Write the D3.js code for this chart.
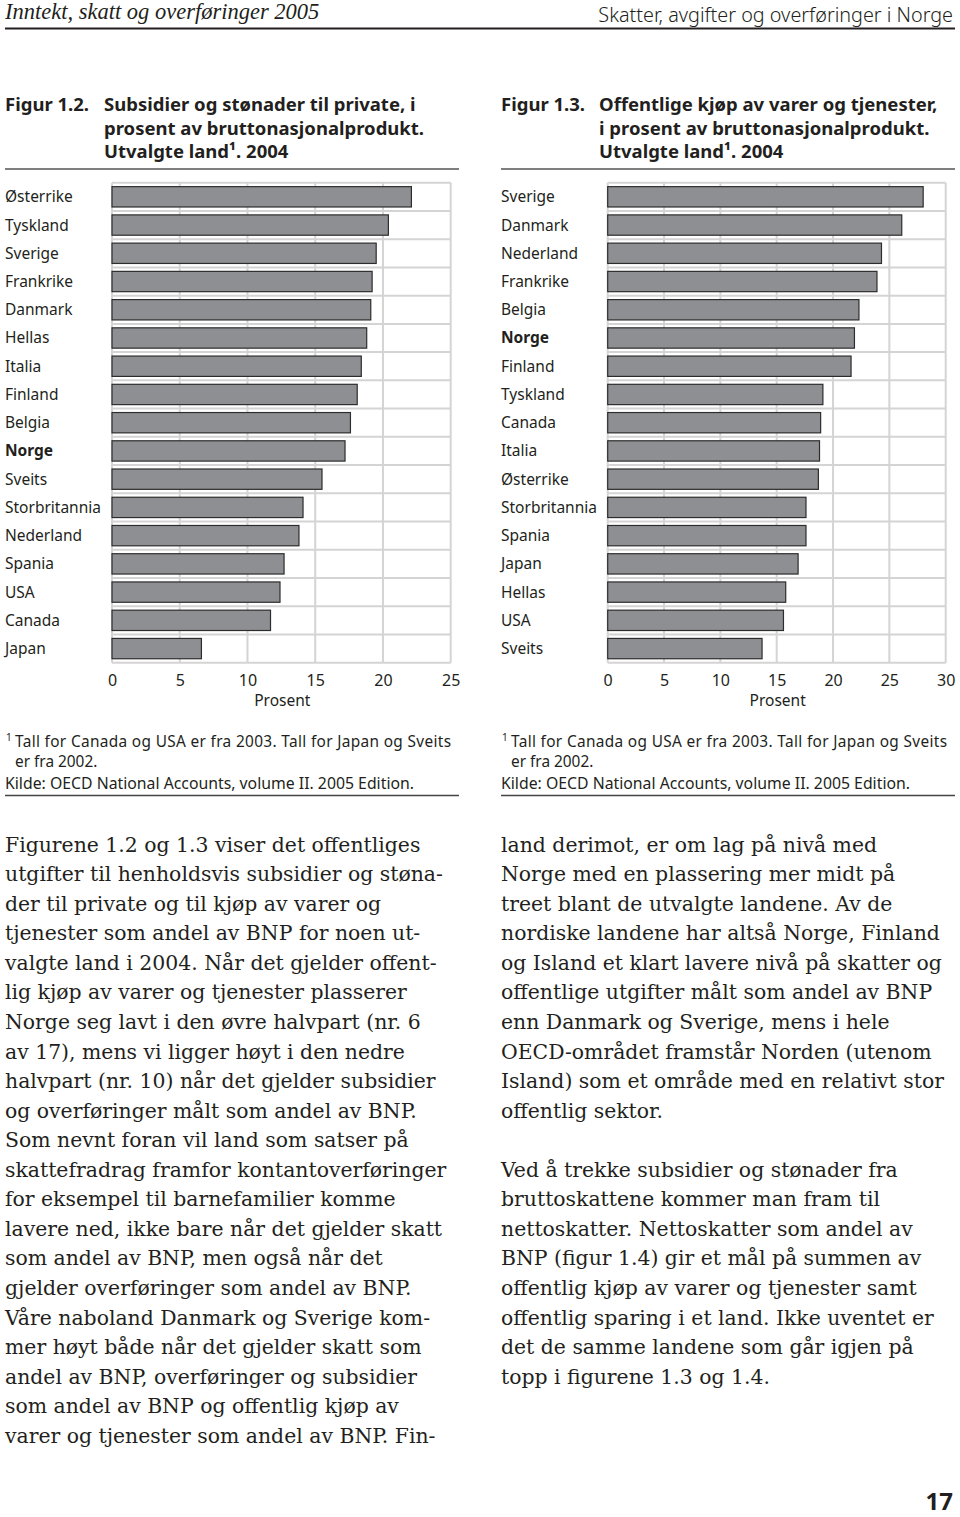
<!DOCTYPE html>
<html><head><meta charset="utf-8">
<script src="https://cdn.jsdelivr.net/npm/d3@7"></script>
<style>body{margin:0;background:#fff} svg{display:block}</style>
</head><body><svg id="c" width="960" height="1517"></svg>
<script>
// ---------- data ----------
const leftCountries = ["Østerrike","Tyskland","Sverige","Frankrike","Danmark","Hellas","Italia","Finland","Belgia","Norge","Sveits","Storbritannia","Nederland","Spania","USA","Canada","Japan"];
const leftValues = [22.1,20.4,19.5,19.2,19.1,18.8,18.4,18.1,17.6,17.2,15.5,14.1,13.8,12.7,12.4,11.7,6.6];
const leftTicks = [0,5,10,15,20,25];

const rightCountries = ["Sverige","Danmark","Nederland","Frankrike","Belgia","Norge","Finland","Tyskland","Canada","Italia","Østerrike","Storbritannia","Spania","Japan","Hellas","USA","Sveits"];
const rightValues = [28.0,26.1,24.3,23.9,22.3,21.9,21.6,19.1,18.9,18.8,18.7,17.6,17.6,16.9,15.8,15.6,13.7];
const rightTicks = [0,5,10,15,20,25,30];

const leftTitle = ["Figur 1.2.", "Subsidier og stønader til private, i", "prosent av bruttonasjonalprodukt.", "Utvalgte land¹. 2004"];
const rightTitle = ["Figur 1.3.", "Offentlige kjøp av varer og tjenester,", "i prosent av bruttonasjonalprodukt.", "Utvalgte land¹. 2004"];
const footLines = ["Tall for Canada og USA er fra 2003. Tall for Japan og Sveits", "er fra 2002.", "Kilde: OECD National Accounts, volume II. 2005 Edition."];
const axisLabel = "Prosent";
const highlight = "Norge";

const bodyLeft = [
"Figurene 1.2 og 1.3 viser det offentliges",
"utgifter til henholdsvis subsidier og støna-",
"der til private og til kjøp av varer og",
"tjenester som andel av BNP for noen ut-",
"valgte land i 2004. Når det gjelder offent-",
"lig kjøp av varer og tjenester plasserer",
"Norge seg lavt i den øvre halvpart (nr. 6",
"av 17), mens vi ligger høyt i den nedre",
"halvpart (nr. 10) når det gjelder subsidier",
"og overføringer målt som andel av BNP.",
"Som nevnt foran vil land som satser på",
"skattefradrag framfor kontantoverføringer",
"for eksempel til barnefamilier komme",
"lavere ned, ikke bare når det gjelder skatt",
"som andel av BNP, men også når det",
"gjelder overføringer som andel av BNP.",
"Våre naboland Danmark og Sverige kom-",
"mer høyt både når det gjelder skatt som",
"andel av BNP, overføringer og subsidier",
"som andel av BNP og offentlig kjøp av",
"varer og tjenester som andel av BNP. Fin-"];
const bodyRight = [
"land derimot, er om lag på nivå med",
"Norge med en plassering mer midt på",
"treet blant de utvalgte landene. Av de",
"nordiske landene har altså Norge, Finland",
"og Island et klart lavere nivå på skatter og",
"offentlige utgifter målt som andel av BNP",
"enn Danmark og Sverige, mens i hele",
"OECD-området framstår Norden (utenom",
"Island) som et område med en relativt stor",
"offentlig sektor.",
"",
"Ved å trekke subsidier og stønader fra",
"bruttoskattene kommer man fram til",
"nettoskatter. Nettoskatter som andel av",
"BNP (figur 1.4) gir et mål på summen av",
"offentlig kjøp av varer og tjenester samt",
"offentlig sparing i et land. Ikke uventet er",
"det de samme landene som går igjen på",
"topp i figurene 1.3 og 1.4."];

// ---------- drawing ----------
const svg = d3.select("#c");
const SANS = "'Noto Sans','Open Sans',sans-serif";
const SERIF = "'DejaVu Serif',serif";
const INK = "#231f20";

// running header
svg.append("text").attr("x",5).attr("y",19)
  .attr("font-family","'Liberation Serif',serif").attr("font-style","italic")
  .attr("font-size",22.5).attr("fill",INK).text("Inntekt, skatt og overføringer 2005");
svg.append("text").attr("x",953).attr("y",21.5).attr("text-anchor","end")
  .attr("font-family",SANS).attr("font-weight",300)
  .attr("font-size",19.8).attr("fill",INK).text("Skatter, avgifter og overføringer i Norge");
svg.append("line").attr("x1",5).attr("x2",955).attr("y1",28.5).attr("y2",28.5)
  .attr("stroke",INK).attr("stroke-width",2);

function panel(o){
  const g = svg.append("g");
  // title
  const tb = [111,134.7,158.3];
  g.append("text").attr("x",o.titleX).attr("y",tb[0]).attr("font-family",SANS)
    .attr("font-weight",700).attr("font-size",18.5).attr("fill",INK).text(o.title[0]);
  o.title.slice(1).forEach((t,i)=>{
    g.append("text").attr("x",o.indentX).attr("y",tb[i]).attr("font-family",SANS)
      .attr("font-weight",700).attr("font-size",18.5).attr("fill",INK).text(t);
  });
  g.append("line").attr("x1",o.titleX).attr("x2",o.ruleX1).attr("y1",169).attr("y2",169)
    .attr("stroke","#555").attr("stroke-width",1.5);

  const x = d3.scaleLinear().domain([0,d3.max(o.ticks)]).range([o.x0,o.x1]);
  const y = d3.scaleBand().domain(o.countries).range([182.7,662.7]).paddingInner(0.28).paddingOuter(0.14);
  const step = y.step();
  const GRID = "#d4d4d4";
  // horizontal separators (band borders)
  d3.range(o.countries.length+1).forEach(i=>{
    const yy = 182.7 + i*step;
    g.append("line").attr("x1",o.x0).attr("x2",o.x1).attr("y1",yy).attr("y2",yy)
      .attr("stroke",GRID).attr("stroke-width",2);
  });
  // vertical grid
  g.selectAll(".vg").data(o.ticks).enter().append("line")
    .attr("x1",d=>x(d)).attr("x2",d=>x(d)).attr("y1",182.7).attr("y2",662.7)
    .attr("stroke",GRID).attr("stroke-width",2);
  // bars
  g.selectAll(".bar").data(o.countries).enter().append("rect")
    .attr("x",x(0)).attr("y",d=>y(d))
    .attr("width",(d,i)=>x(o.values[i])-x(0)).attr("height",y.bandwidth())
    .attr("fill","#8e8f92").attr("stroke","#2d2d2d").attr("stroke-width",1.2);
  // category labels
  g.selectAll(".lab").data(o.countries).enter().append("text")
    .attr("x",o.labelX).attr("y",d=>y(d)+y.bandwidth()/2+5.5)
    .attr("font-family",SANS).attr("font-size",15.5).attr("fill",INK)
    .attr("font-weight",d=>d===highlight?700:400).text(d=>d);
  // x axis
  const ax = d3.axisBottom(x).tickValues(o.ticks).tickSize(0).tickPadding(0);
  const axg = g.append("g").attr("transform","translate(0,686)").call(ax);
  axg.select(".domain").remove();
  axg.selectAll("text").attr("dy",0).attr("y",0).attr("font-family",SANS)
    .attr("font-size",16).attr("fill",INK);
  g.append("text").attr("x",(o.x0+o.x1)/2+1).attr("y",706).attr("text-anchor","middle")
    .attr("font-family",SANS).attr("font-size",15.5).attr("fill",INK).text(axisLabel);
  // footnotes
  g.append("text").attr("x",o.titleX+1).attr("y",741).attr("font-family",SANS)
    .attr("font-size",10).attr("fill",INK).text("1");
  g.append("text").attr("x",o.titleX+10).attr("y",747).attr("font-family",SANS)
    .attr("font-size",15.4).attr("fill",INK).attr("textLength",436).attr("lengthAdjust","spacing").text(footLines[0]);
  g.append("text").attr("x",o.titleX+10).attr("y",766.5).attr("font-family",SANS)
    .attr("font-size",15.4).attr("fill",INK).text(footLines[1]);
  g.append("text").attr("x",o.titleX).attr("y",789.3).attr("font-family",SANS)
    .attr("font-size",15.8).attr("fill",INK).text(footLines[2]);
  g.append("line").attr("x1",o.titleX).attr("x2",o.ruleX1).attr("y1",795.5).attr("y2",795.5)
    .attr("stroke","#444").attr("stroke-width",1.5);
}

panel({titleX:5, indentX:104, ruleX1:459, x0:112, x1:450.7, labelX:5,
  countries:leftCountries, values:leftValues, ticks:leftTicks, title:leftTitle});
panel({titleX:501, indentX:599, ruleX1:955, x0:607.7, x1:945.7, labelX:501,
  countries:rightCountries, values:rightValues, ticks:rightTicks, title:rightTitle});

// body text
function body(lines, x){
  lines.forEach((t,i)=>{
    if(!t) return;
    svg.append("text").attr("x",x).attr("y",851.7+i*29.55)
      .attr("font-family",SERIF).attr("font-size",20.4).attr("fill",INK).text(t);
  });
}
body(bodyLeft,5);
body(bodyRight,501);

// page number
svg.append("text").attr("x",953).attr("y",1510).attr("text-anchor","end")
  .attr("font-family",SANS).attr("font-weight",700).attr("font-size",24).attr("fill",INK).text("17");
</script></body></html>
